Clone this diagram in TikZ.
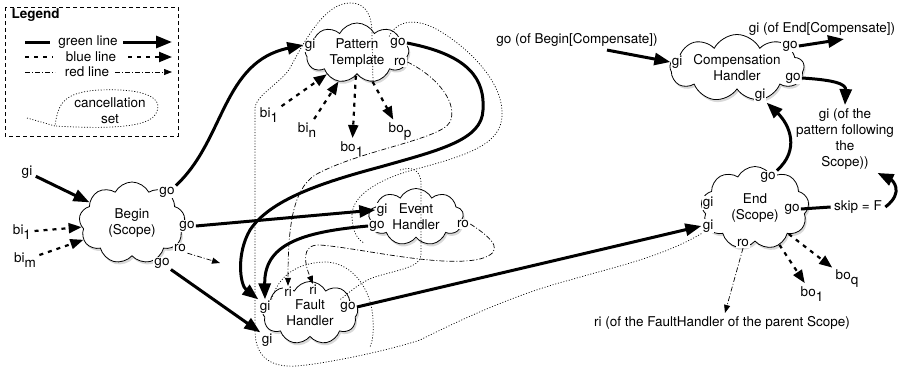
\documentclass[tikz,border=0pt]{standalone}
\usepackage{fontspec}
\setmainfont{TeX Gyre Heros}
\usetikzlibrary{arrows.meta, shapes.symbols, shadows}

\newcommand{\lowidx}[1]{\raisebox{-5pt}{#1}}

\begin{document}
\begin{tikzpicture}[x=1pt, y=-1pt,
  every node/.style={font=\fontsize{13.5}{16}\selectfont},
  activity/.style={cloud, cloud puffs=9, cloud puff arc=125, cloud ignores aspect, draw, line width=0.8pt,
    fill=white, align=center, inner sep=0pt,
    drop shadow={shadow xshift=1.5pt, shadow yshift=-2.5pt, opacity=0.3}},
  port/.style={fill=white, inner sep=1.2pt},
  green line/.style={line width=3pt, -{Triangle[length=16pt, width=12pt]}},
  blue line/.style={line width=2.2pt, dash pattern=on 4pt off 5pt, -{Triangle[length=13pt, width=10pt]}},
  red line/.style={line width=0.7pt, dash pattern=on 5pt off 2pt on 1pt off 2pt, -{Triangle[length=8pt, width=6pt]}},
  cset/.style={line width=0.7pt, dash pattern=on 1pt off 1.8pt}]

  \useasboundingbox (0,0) rectangle (903,370);

  % legend
  \draw[line width=0.8pt, dash pattern=on 4pt off 3pt] (5,7) rectangle (178,136);
  \node[anchor=west, font=\fontsize{13.5}{16}\selectfont\bfseries] (leg) at (8,15) {Legend};
  \node (lgreen) at (88,42) {green line};
  \node (lblue) at (91,57) {blue line};
  \node (lred) at (87,72) {red line};
  \node[align=center] (lcset) at (110,111) {cancellation\\set};
  \draw[green line, -] (25,42) -- (50,42);
  \draw[green line] (123,42) -- (172,42);
  \draw[blue line, -] (25,57) -- (53,57);
  \draw[blue line] (128,57) -- (172,57);
  \draw[red line, -] (25,72) -- (55,72);
  \draw[red line] (115,72) -- (172,72);
  \draw[cset] (27,118) -- (55,126) .. controls (58,105) and (62,92) .. (100,90)
    .. controls (150,88) and (165,100) .. (155,115) .. controls (145,130) and (90,128) .. (55,126);

  % clouds
  \node[activity, minimum width=104pt, minimum height=60pt] (pt) at (357,53) {Pattern\\Template};
  \node[activity, minimum width=106pt, minimum height=82pt] (bg) at (132,223) {Begin\\(Scope)};
  \node[activity, minimum width=95pt, minimum height=57pt] (ev) at (416,217) {Event\\Handler};
  \node[activity, minimum width=96pt, minimum height=63pt] (ft) at (310,313) {Fault\\Handler};
  \node[activity, minimum width=134pt, minimum height=67pt] (cp) at (737,68) {Compensation\\Handler};
  \node[activity, minimum width=108pt, minimum height=83pt] (en) at (755,208) {End\\(Scope)};

  % ports
  \node[port] (pt-gi) at (310,45) {gi};
  \node[port] (pt-go) at (398,43) {go};
  \node[port] (pt-ro) at (400,62) {ro};
  \node[port] (bg-go1) at (167,192) {go};
  \node[port] (bg-go2) at (187,226) {go};
  \node[port] (bg-ro) at (180,248) {ro};
  \node[port] (bg-go3) at (162,263) {go};
  \node[port] (ev-gi) at (382,210) {gi};
  \node[port] (ev-go) at (377,226) {go};
  \node[port] (ev-ro) at (463,224) {ro};
  \node[port] (ft-ri1) at (288,292) {ri};
  \node[port] (ft-ri2) at (313,290) {ri};
  \node[port] (ft-gi1) at (265,307) {gi};
  \node[port] (ft-go) at (348,307) {go};
  \node[port] (ft-gi2) at (267,340) {gi};
  \node[port] (cp-gi) at (677,62) {gi};
  \node[port] (cp-go1) at (790,46) {go};
  \node[port] (cp-go2) at (793,78) {go};
  \node[port] (cp-gi2) at (760,95) {gi};
  \node[port] (en-gi1) at (708,203) {gi};
  \node[port] (en-gi2) at (708,226) {gi};
  \node[port] (en-go1) at (768,177) {go};
  \node[port] (en-go2) at (792,209) {go};
  \node[port] (en-ro) at (743,243) {ro};

  % outside labels
  \node (gi) at (27,172) {gi};
  \node (bi1) at (22,232) {bi\lowidx{1}};
  \node (bim) at (25,260) {bi\lowidx{m}};
  \node (pbi1) at (269,115) {bi\lowidx{1}};
  \node (pbin) at (307,130) {bi\lowidx{n}};
  \node (pbo1) at (352,149) {bo\lowidx{1}};
  \node (pbop) at (400,132) {bo\lowidx{p}};
  \node (cgo) at (577,40) {go (of Begin[Compensate])};
  \node (cgi) at (822,29) {gi (of End[Compensate])};
  \node[align=center] (follow) at (845,139) {gi (of the\\pattern following\\the\\Scope))};
  \node (skip) at (858,207) {skip = F};
  \node (ebo1) at (812,294) {bo\lowidx{1}};
  \node (eboq) at (847,279) {bo\lowidx{q}};
  \node (eri) at (722,323) {ri (of the FaultHandler of the parent Scope)};
  \coordinate (bgro) at (220,263);

  % green lines
  \draw[green line] (gi) -- (bg);
  \draw[green line] (bg-go1.north east) .. controls (225,140) and (222,62) .. (pt-gi.west);
  \draw[green line] (bg-go2.east) -- (ev-gi.west);
  \draw[green line] (bg-go3.south east) -- (ft-gi2.north west);
  \draw[green line] (pt-go.east) .. controls (470,55) and (485,80) .. (483,110)
    .. controls (482,140) and (440,150) .. (380,167) .. controls (320,183) and (270,200) .. (250,230)
    .. controls (236,254) and (240,285) .. (ft-gi1.north west);
  \draw[green line] (ev-go.west) .. controls (300,232) and (264,245) .. (ft-gi1.north);
  \draw[green line] (ft-go.east) -- (en-gi2.west);
  \draw[green line] ([xshift=30pt]cgo.south) -- (cp-gi.west);
  \draw[green line] (cp-go1.east) -- ([xshift=22pt]cgi.south);
  \draw[green line] (cp-go2.east) .. controls (835,80) and (846,84) .. (follow.north);
  \draw[green line] (en-go1.north east) .. controls (800,150) and (790,125) .. (cp-gi2.south east);
  \draw[line width=3pt] (en-go2.east) -- (skip.west);
  \draw[green line] (skip.east) .. controls (905,192) and (892,180) .. ([xshift=-20pt]follow.south east);

  % blue lines
  \draw[blue line] (bi1) -- (bg);
  \draw[blue line] (bim) -- (bg);
  \draw[blue line] (pbi1) -- (pt);
  \draw[blue line] (pbin) -- (pt);
  \draw[blue line] (pt) -- (pbo1);
  \draw[blue line] (pt) -- (pbop);
  \draw[blue line] (en) -- (ebo1);
  \draw[blue line] (en) -- (eboq);

  % red lines
  \draw[red line] (bg-ro.south east) -- (bgro);
  \draw[red line] (pt-ro.east) .. controls (440,78) and (458,105) .. (450,122)
    .. controls (440,140) and (360,150) .. (315,175) .. controls (292,190) and (288,230) .. (ft-ri1.north);
  \draw[red line] (ev-ro.east) .. controls (495,240) and (505,252) .. (480,259)
    .. controls (440,268) and (360,248) .. (320,245) .. controls (300,244) and (305,265) .. (ft-ri2.north);
  \draw[red line] (en-ro.south) -- ([xshift=3pt]eri.north);

  % cancellation sets
  \draw[cset] (en-gi2.south west) .. controls (660,258) and (610,268) .. (570,280)
    .. controls (520,293) and (470,315) .. (420,340) .. controls (390,350) and (330,363) .. (297,366)
    .. controls (265,368) and (255,352) .. (255,330) -- (255,108)
    .. controls (256,95) and (282,82) .. (290,68) .. controls (305,40) and (325,3) .. (350,3)
    .. controls (368,3) and (372,18) .. (372,35) -- (373,82);
  \draw[cset] (ft-gi1.north east) .. controls (280,270) and (305,262) .. (327,262)
    .. controls (355,264) and (372,292) .. (373,320) .. controls (374,335) and (372,342) .. (370,347);
  \draw[cset] (pt-go.north west) .. controls (398,18) and (420,18) .. (443,33)
    .. controls (470,50) and (500,80) .. (502,110) .. controls (504,140) and (480,152) .. (420,168)
    .. controls (380,178) and (352,195) .. (352,215) .. controls (352,232) and (358,240) .. (364,243);
  \draw[cset] (400,170) .. controls (412,166) and (420,170) .. (421,182) -- (421,255)
    .. controls (421,268) and (395,270) .. (372,278) .. controls (360,283) and (352,290) .. (ft-go.north west);
\end{tikzpicture}
\end{document}
